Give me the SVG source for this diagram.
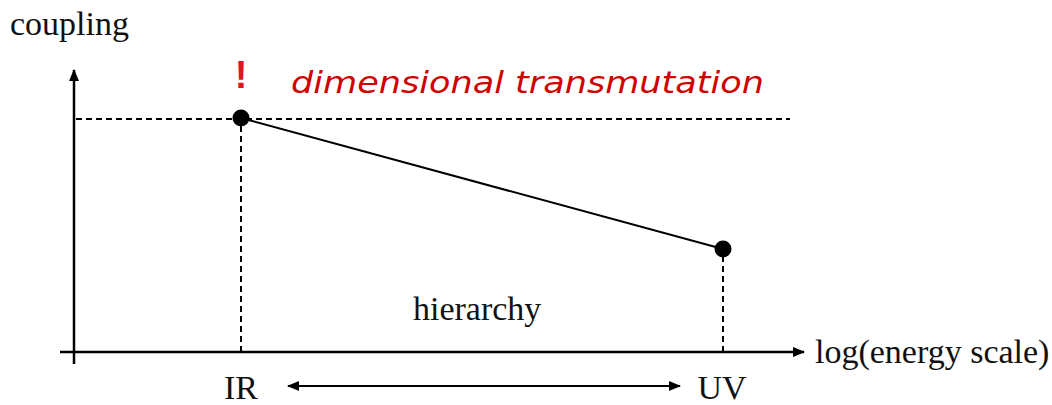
<svg xmlns="http://www.w3.org/2000/svg" width="1052" height="405" viewBox="0 0 1052 405">
<defs>
<style>
.lbl{font-family:"Liberation Serif","Times New Roman",serif;font-size:34px;fill:#111}
.axis{stroke:#000;stroke-width:2.5;fill:none}
.dash{stroke:#000;stroke-width:2;stroke-dasharray:6 4;fill:none}
.dot{fill:#000}
</style>
<marker id="ah" viewBox="0 0 12 10" refX="11" refY="5" markerWidth="12" markerHeight="10" markerUnits="userSpaceOnUse" orient="auto-start-reverse">
<path d="M0,0 L12,5 L0,10 Z" fill="#000"/>
</marker>
</defs>
<rect width="1052" height="405" fill="#fff"/>
<g id="axes">
<line class="axis" x1="74" y1="364" x2="74" y2="70" marker-end="url(#ah)"/>
<line class="axis" x1="60" y1="352" x2="804" y2="352" marker-end="url(#ah)"/>
<text class="lbl" x="10" y="35">coupling</text>
<text class="lbl" x="815" y="363">log(energy scale)</text>
</g>
<g id="connectors">
<line class="dash" x1="76" y1="119" x2="790" y2="119"/>
<line class="dash" x1="241" y1="126" x2="241" y2="351"/>
<line class="dash" x1="723" y1="256" x2="723" y2="351"/>
<line stroke="#000" stroke-width="2" x1="241" y1="118" x2="723" y2="249"/>
<line stroke="#000" stroke-width="2" x1="288" y1="386" x2="680" y2="386" marker-start="url(#ah)" marker-end="url(#ah)"/>
</g>
<g id="ir-point">
<circle class="dot" cx="241" cy="118" r="8.5"/>
<text x="241" y="88" text-anchor="middle" font-family="Liberation Sans, Arial, sans-serif" font-weight="bold" font-size="38" fill="#e3171b">!</text>
<text x="291" y="93" textLength="473" lengthAdjust="spacingAndGlyphs" font-family="DejaVu Sans, sans-serif" font-style="italic" font-weight="300" font-size="30" fill="#d10000">dimensional transmutation</text>
</g>
<g id="uv-point">
<circle class="dot" cx="723" cy="249" r="8.5"/>
</g>
<g id="labels">
<text class="lbl" x="413" y="320">hierarchy</text>
<text class="lbl" x="241" y="399" text-anchor="middle">IR</text>
<text class="lbl" x="722" y="399" text-anchor="middle">UV</text>
</g>
</svg>
